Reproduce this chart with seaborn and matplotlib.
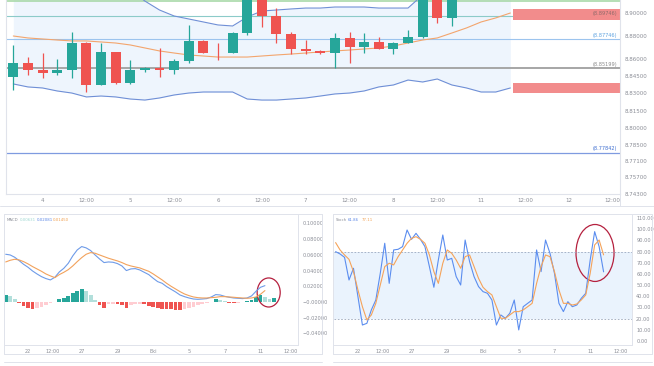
import matplotlib
matplotlib.use("Agg")
import matplotlib.pyplot as plt
from matplotlib.patches import Rectangle, Ellipse
from matplotlib.lines import Line2D
import numpy as np
import seaborn as sns

# ---- price panel: 4h candles, bar 0 = day 3 16:00 ----
opens = [8.8443, 8.8565, 8.8504, 8.8478, 8.8504, 8.8739, 8.8374, 8.8661, 8.8391, 8.8504,
         8.8522, 8.8504, 8.8583, 8.8757, 8.8654, 8.8652, 8.8826, 8.9150, 8.8974, 8.8817,
         8.8687, 8.8670, 8.8652, 8.8783, 8.8704, 8.8748, 8.8687, 8.8739, 8.8791, 8.9150, 8.8957]
highs = [8.8722, 8.8617, 8.8652, 8.8600, 8.8835, 8.8745, 8.8739, 8.8665, 8.8591, 8.8530,
         8.8696, 8.8600, 8.8896, 8.8765, 8.8739, 8.8835, 8.9200, 8.9180, 8.9043, 8.8835,
         8.8765, 8.8678, 8.8826, 8.8835, 8.8826, 8.8791, 8.8748, 8.8852, 8.9180, 8.9180, 8.9170]
lows = [8.8330, 8.8461, 8.8435, 8.8461, 8.8435, 8.8313, 8.8370, 8.8385, 8.8385, 8.8487,
        8.8443, 8.8470, 8.8565, 8.8648, 8.8591, 8.8648, 8.8809, 8.8878, 8.8739, 8.8643,
        8.8643, 8.8643, 8.8522, 8.8565, 8.8652, 8.8683, 8.8643, 8.8739, 8.8785, 8.8913, 8.8887]
closes = [8.8565, 8.8504, 8.8478, 8.8504, 8.8739, 8.8374, 8.8661, 8.8391, 8.8504, 8.8522,
          8.8504, 8.8583, 8.8757, 8.8652, 8.8650, 8.8826, 8.9150, 8.8974, 8.8817, 8.8687,
          8.8670, 8.8652, 8.8783, 8.8704, 8.8748, 8.8687, 8.8739, 8.8791, 8.9150, 8.8957, 8.9140]

band_upper = [8.945, 8.944, 8.942, 8.940, 8.938, 8.935, 8.932, 8.927, 8.920, 8.9104,
              8.9026, 8.8974, 8.8948, 8.8922, 8.8896, 8.8887, 8.8965, 8.9017, 8.9026, 8.9035,
              8.9043, 8.9043, 8.9052, 8.9052, 8.9052, 8.9043, 8.9043, 8.9043, 8.9157, 8.924,
              8.930, 8.934, 8.937, 8.939, 8.940]
band_mid = [8.8800, 8.8783, 8.8774, 8.8765, 8.8757, 8.8757, 8.8748, 8.8739, 8.8722, 8.8696,
            8.8670, 8.8652, 8.8635, 8.8626, 8.8617, 8.8617, 8.8617, 8.8626, 8.8635, 8.8643,
            8.8652, 8.8661, 8.8670, 8.8678, 8.8687, 8.8696, 8.8713, 8.8739, 8.8765, 8.8783,
            8.8826, 8.8870, 8.8922, 8.8957, 8.9000]
band_lower = [8.8383, 8.8357, 8.8348, 8.8322, 8.8304, 8.8270, 8.8278, 8.8270, 8.8252, 8.8243,
              8.8261, 8.8287, 8.8304, 8.8313, 8.8313, 8.8313, 8.8252, 8.8243, 8.8243, 8.8252,
              8.8261, 8.8278, 8.8296, 8.8304, 8.8322, 8.8357, 8.8374, 8.8417, 8.8400, 8.8426,
              8.8374, 8.8348, 8.8313, 8.8313, 8.8348]

level_values = [8.9105, 8.89746, 8.87746, 8.85199, 8.77842]
level_labels = [None, "(8.89746)", "(8.87746)", "(8.85199)", "(8.77842)"]
zone_upper = (8.9035, 8.8939)
zone_lower = (8.8391, 8.8304)

price_ticks = [8.90, 8.88, 8.86, 8.845, 8.83, 8.815, 8.80, 8.785, 8.771, 8.757, 8.743]
price_time_labels = ["4", "12:00", "5", "12:00", "6", "12:00", "7", "12:00",
                     "8", "12:00", "11", "12:00", "12", "12:00"]

# ---- lower panels: x in trading days, 0 = 22 Sep ----
macd_line = [0.0608, 0.0599, 0.0570, 0.0527, 0.0480, 0.0442, 0.0395, 0.0357, 0.0323, 0.0298,
             0.0281, 0.0315, 0.0383, 0.0429, 0.0493, 0.0587, 0.0663, 0.0706, 0.0689, 0.0655,
             0.0599, 0.0548, 0.0502, 0.0510, 0.0506, 0.0489, 0.0459, 0.0400, 0.0421, 0.0425,
             0.0408, 0.0378, 0.0349, 0.0302, 0.0259, 0.0238, 0.0196, 0.0162, 0.0128, 0.0089,
             0.0068, 0.0051, 0.0038, 0.0034, 0.0038, 0.0043, 0.0064, 0.0094, 0.0089, 0.0072,
             0.0060, 0.0051, 0.0047, 0.0043, 0.0051, 0.0077, 0.0136, 0.0187, 0.0208]
macd_signal = [0.0510, 0.0531, 0.0544, 0.0536, 0.0514, 0.0485, 0.0451, 0.0421, 0.0391, 0.0357,
               0.0332, 0.0310, 0.0349, 0.0378, 0.0412, 0.0459, 0.0514, 0.0565, 0.0608, 0.0629,
               0.0621, 0.0599, 0.0578, 0.0557, 0.0540, 0.0523, 0.0502, 0.0476, 0.0459, 0.0446,
               0.0434, 0.0412, 0.0391, 0.0357, 0.0319, 0.0281, 0.0238, 0.0200, 0.0166, 0.0132,
               0.0102, 0.0081, 0.0064, 0.0055, 0.0051, 0.0051, 0.0055, 0.0060, 0.0068, 0.0068,
               0.0064, 0.0060, 0.0055, 0.0051, 0.0047, 0.0051, 0.0064, 0.0098, 0.0145]
macd_hist = [0.0089, 0.0077, 0.0034, -0.0017, -0.0047, -0.0077, -0.0094, -0.0081, -0.0060, -0.0034,
             -0.0013, -0.0004, 0.0034, 0.0055, 0.0081, 0.0111, 0.0136, 0.0162, 0.0136, 0.0085,
             0.0026, -0.0034, -0.0081, -0.0026, -0.0021, -0.0030, -0.0043, -0.0081, -0.0034, -0.0026,
             -0.0021, -0.0030, -0.0051, -0.0064, -0.0077, -0.0085, -0.0094, -0.0094, -0.0098, -0.0102,
             -0.0089, -0.0077, -0.0060, -0.0043, -0.0030, -0.0017, -0.0004, 0.0034, 0.0030, 0.0017,
             -0.0009, -0.0013, -0.0009, -0.0004, 0.0009, 0.0026, 0.0068, 0.0089, 0.0068, 0.0038, 0.0055]

stoch_k = [80.0, 77.9, 74.9, 54.6, 65.1, 39.7, 14.3, 15.8, 27.8, 36.7,
           60.6, 87.5, 51.6, 81.5, 82.1, 84.5, 99.4, 91.0, 96.4, 91.0,
           84.5, 66.6, 48.1, 72.5, 94.9, 72.5, 74.0, 57.6, 50.1, 90.4,
           71.0, 57.6, 48.7, 44.2, 42.7, 36.7, 14.3, 23.3, 20.3, 24.8,
           36.7, 9.9, 30.7, 33.7, 36.7, 81.5, 62.1, 90.4, 78.5, 60.6,
           33.7, 26.3, 35.2, 30.7, 32.2, 38.2, 42.7, 72.5, 97.9, 84.5, 61.9]
stoch_d = [88.1, 81.5, 77.0, 73.1, 62.1, 45.7, 30.7, 18.8, 23.3, 33.7,
           50.1, 66.6, 69.6, 68.1, 75.5, 81.5, 87.5, 91.9, 93.4, 91.0,
           87.5, 77.0, 62.1, 51.6, 69.6, 81.5, 78.5, 72.5, 65.1, 75.5,
           77.0, 66.6, 56.1, 48.1, 44.2, 41.2, 30.7, 20.3, 20.3, 23.3,
           26.3, 26.3, 27.8, 30.7, 33.7, 51.6, 66.6, 77.0, 75.5, 62.1,
           45.7, 33.7, 33.7, 32.2, 33.1, 36.7, 41.2, 60.6, 86.0, 90.4, 77.1]

day_labels = ["22", "12:00", "27", "29", "Eki", "5", "7", "11", "12:00"]
day_label_pos = [0, 1.4, 3, 5, 7, 9, 11, 13, 14.7]

GREEN = "#26a69a"
RED = "#ef5350"
TXT = "#8a8d96"
EDGE = "#e0e3eb"

sns.set_theme(style="white")
plt.rcParams["font.family"] = ["DejaVu Sans"]

W, H = 654, 366
fig = plt.figure(figsize=(W / 100, H / 100), dpi=100)


def box(l, t, r, b):
    return [l / W, 1 - b / H, (r - l) / W, (b - t) / H]


# ================= price panel =================
ax = fig.add_axes(box(6, 0, 620, 194))
n = len(opens)
xs = np.arange(n)
bx = np.arange(len(band_mid))

ax.fill_between(bx, band_lower, band_upper, color="#eef5fd", lw=0)
sns.lineplot(x=bx, y=band_upper, ax=ax, color="#6f8fd6", lw=0.8, sort=False, estimator=None)
sns.lineplot(x=bx, y=band_lower, ax=ax, color="#6f8fd6", lw=0.8, sort=False, estimator=None)
sns.lineplot(x=bx, y=band_mid, ax=ax, color="#f3a56d", lw=0.8, sort=False, estimator=None)

level_colors = ["#a9d9a9", "#8ccbc9", "#9cc4ee", "#a6a6a6", "#7f9be0"]
level_widths = [1.2, 0.8, 0.8, 1.4, 0.9]
label_colors = [None, "#8f6a6a", "#5fa3e0", "#8a8a8a", "#3f6fd0"]
for v, c, lw in zip(level_values, level_colors, level_widths):
    ax.axhline(v, color=c, lw=lw, zorder=1)

x_right = 41.5
for lo, hi in [zone_upper, zone_lower]:
    ax.add_patch(Rectangle((34.2, hi), x_right - 34.2, lo - hi, color="#f28c8c",
                           lw=0, zorder=2))

for i in xs:
    o, h, l, c = opens[i], highs[i], lows[i], closes[i]
    col = GREEN if c >= o else RED
    ax.vlines(i, l, h, color=col, lw=0.9, zorder=3)
    ax.bar(i, max(abs(c - o), 0.0003), bottom=min(o, c), width=0.68, color=col,
           lw=0, zorder=4)

for v, txt, c in zip(level_values, level_labels, label_colors):
    if txt is None:
        continue
    if txt == "(8.89746)":
        ax.text(41.3, 8.8992, txt, color=c, fontsize=3.6, ha="right", va="center", zorder=5)
    else:
        ax.text(41.3, v + 0.0012, txt, color=c, fontsize=3.6, ha="right", va="bottom", zorder=5)

ax.set_xlim(-0.5, x_right)
ax.set_ylim(8.7426, 8.9113)
ax.yaxis.tick_right()
ax.set_yticks(price_ticks)
ax.set_yticklabels([f"{v:.5f}" for v in price_ticks])
ax.set_xticks(list(range(2, 42, 3)))
ax.set_xticklabels(price_time_labels)
ax.tick_params(axis="both", labelsize=4, colors=TXT, length=0, pad=3)
ax.spines["top"].set_visible(False)
for s in ["left", "right", "bottom"]:
    ax.spines[s].set_color(EDGE)
    ax.spines[s].set_linewidth(0.8)

# ================= MACD panel =================
ax2 = fig.add_axes(box(5, 215, 298, 345))
lx = -1.25 + 0.25 * np.arange(len(macd_line))
hx = -1.25 + 0.25 * np.arange(len(macd_hist))
hist_cols = []
for i, hv in enumerate(macd_hist):
    prev = macd_hist[i - 1] if i > 0 else hv
    if hv >= 0:
        hist_cols.append("#26a69a" if hv >= prev else "#b2dfdb")
    else:
        hist_cols.append("#ef5350" if hv <= prev else "#ffcdd2")
ax2.bar(hx, macd_hist, width=0.21, color=hist_cols, lw=0)
sns.lineplot(x=lx, y=macd_line, ax=ax2, color="#6e9be8", lw=0.8, sort=False, estimator=None)
sns.lineplot(x=lx, y=macd_signal, ax=ax2, color="#f2a25c", lw=0.8, sort=False, estimator=None)
ax2.add_patch(Ellipse((13.46, 0.0121), 1.29, 0.037, fill=False, ec="#b5213f", lw=0.9))

ax2.set_xlim(-1.29, 15.1)
ax2.set_ylim(-0.0548, 0.1108)
ax2.yaxis.tick_right()
macd_ticks = [0.10, 0.08, 0.06, 0.04, 0.02, 0.0, -0.02, -0.04]
ax2.set_yticks(macd_ticks)
ax2.set_yticklabels(["0.10000", "0.08000", "0.06000", "0.04000", "0.02000",
                     "\u22120.00000", "\u22120.02000", "\u22120.04000"])
ax2.set_xticks(day_label_pos)
ax2.set_xticklabels(day_labels)
ax2.tick_params(axis="both", labelsize=3.6, colors=TXT, length=0, pad=3)
for s in ["top", "left"]:
    ax2.spines[s].set_visible(False)
for s in ["right", "bottom"]:
    ax2.spines[s].set_color(EDGE)
    ax2.spines[s].set_linewidth(0.7)

for px_, txt, c in [(0.007, "MACD", "#8a8d96"), (0.051, "0.00631", "#9fd8d2"),
                    (0.109, "0.02081", "#5b86e6"), (0.164, "0.01450", "#f0a050")]:
    ax2.text(px_, 0.965, txt, transform=ax2.transAxes, fontsize=2.8, color=c,
             ha="left", va="center")

# ================= Stoch panel =================
ax3 = fig.add_axes(box(334, 215, 632, 345))
sx = -1.25 + 0.25 * np.arange(len(stoch_k))
ax3.axhspan(20, 80, color="#eaf3fd", lw=0)
ax3.axhline(80, color="#9aa7bd", lw=0.6, ls=(0, (2, 2)))
ax3.axhline(20, color="#9aa7bd", lw=0.6, ls=(0, (2, 2)))
sns.lineplot(x=sx, y=stoch_k, ax=ax3, color="#5b8def", lw=0.8, sort=False, estimator=None)
sns.lineplot(x=sx, y=stoch_d, ax=ax3, color="#f5a35a", lw=0.8, sort=False, estimator=None)
ax3.add_patch(Ellipse((13.27, 78.8), 2.13, 51, fill=False, ec="#b5213f", lw=0.9))

ax3.set_xlim(-1.34, 15.34)
ax3.set_ylim(-3.6, 112.8)
ax3.yaxis.tick_right()
st_ticks = list(range(0, 120, 10))
ax3.set_yticks(st_ticks)
ax3.set_yticklabels([f"{v:.2f}" for v in st_ticks])
ax3.set_xticks(day_label_pos)
ax3.set_xticklabels(day_labels)
ax3.tick_params(axis="both", labelsize=3.6, colors=TXT, length=0, pad=3)
for s in ["top", "left"]:
    ax3.spines[s].set_visible(False)
for s in ["right", "bottom"]:
    ax3.spines[s].set_color(EDGE)
    ax3.spines[s].set_linewidth(0.7)

for px_, txt, c in [(0.007, "Stoch", "#8a8d96"), (0.047, "61.86", "#5b86e6"),
                    (0.094, "77.11", "#f0a050")]:
    ax3.text(px_, 0.965, txt, transform=ax3.transAxes, fontsize=2.8, color=c,
             ha="left", va="center")


# panel frames
def fline(x0, y0, x1, y1):
    fig.add_artist(Line2D([x0 / W, x1 / W], [1 - y0 / H, 1 - y1 / H], color=EDGE, lw=0.7))


fline(0, 206, 654, 206)
fline(620, 194, 620, 206)
for l, r in [(4, 322), (333, 652)]:
    fline(l, 214, r, 214)
    fline(l, 214, l, 354)
    fline(r, 214, r, 354)
    fline(l, 354, r, 354)
    fline(l, 362, r, 362)

fig.savefig("out.png", dpi=100)
